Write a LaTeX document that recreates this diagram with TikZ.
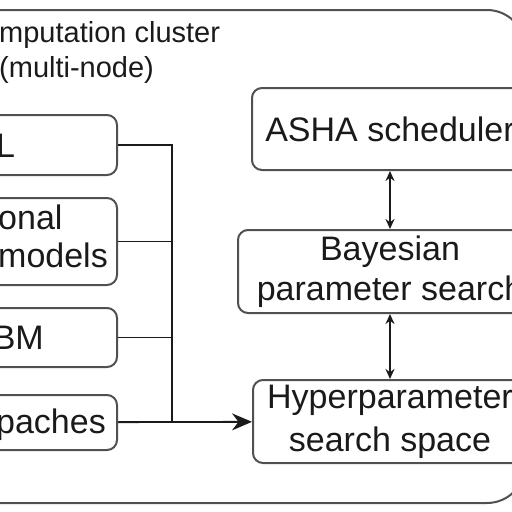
\documentclass[tikz,border=0pt]{standalone}
\usepackage{fontspec}
\setmainfont{Liberation Sans}
\usetikzlibrary{arrows.meta,positioning}
\definecolor{edge}{HTML}{505050}
\definecolor{ink}{HTML}{1A1A1A}

\begin{document}
\begin{tikzpicture}[x=1pt, y=-1pt,
  box/.style={rectangle, draw=edge, line width=2pt, rounded corners=10pt, minimum width=#1, align=center, text=ink,
    font=\fontsize{34}{40}\selectfont, inner sep=0pt},
  txt/.style={inner sep=0pt, text=ink, font=\fontsize{34}{38}\selectfont},
  frame/.style={draw=edge, line width=2pt, rounded corners=38pt},
  wire/.style={draw=ink, line width=1.8pt},
  arr/.style={-{Stealth[length=20pt, width=17pt]}, line width=1.8pt, ink},
  dbl/.style={{Stealth[length=10pt, width=9pt]}-{Stealth[length=10pt, width=9pt]}, line width=1.8pt, ink}
]
  \useasboundingbox (0,0) rectangle (512,512);
  \clip (0,0) rectangle (512,512);

  % cluster frame
  \draw[frame] (-40,10) rectangle (525,503);
  \node[inner sep=0pt, text=ink, font=\fontsize{29}{35}\selectfont, align=left, anchor=base west] (title) at (-1,77) {mputation cluster\\(multi-node)};

  % model boxes on the left
  \node[box=300pt, minimum height=60pt] (rl) at (-33,145) {};
  \node[box=300pt, minimum height=87pt] (conv) at (-33,241.5) {};
  \node[box=300pt, minimum height=59pt] (gbm) at (-33,337.5) {};
  \node[box=300pt, minimum height=55pt] (appr) at (-33,422.5) {};
  \node[txt, anchor=base west] (rltext) at (-4,157) {L};
  \node[txt, align=left, anchor=base west] (convtext) at (-2,267) {onal\\models};
  \node[txt, anchor=base east] (gbmtext) at (44,349) {BM};
  \node[txt, anchor=base east] (apprtext) at (106,433) {paches};

  % tuning boxes on the right
  \node[box=276pt, minimum height=82pt] (asha) at (390,129) {ASHA scheduler};
  \node[box=304pt, minimum height=83pt] (bayes) at (390,271.5) {Bayesian\\parameter search};
  \node[box=274pt, minimum height=83pt, font=\fontsize{34}{43}\selectfont] (hyper) at (390,421.5) {Hyperparameter\\search space};

  % bus
  \coordinate (bus) at (172,422);
  \draw[wire] (rl.east) -| (bus);
  \draw[wire] (conv.east) -- (conv.east -| bus);
  \draw[wire] (gbm.east) -- (gbm.east -| bus);
  \draw[arr] (appr) -- (hyper);

  \draw[dbl] (asha) -- (bayes);
  \draw[dbl] (bayes) -- (hyper);
\end{tikzpicture}
\end{document}
